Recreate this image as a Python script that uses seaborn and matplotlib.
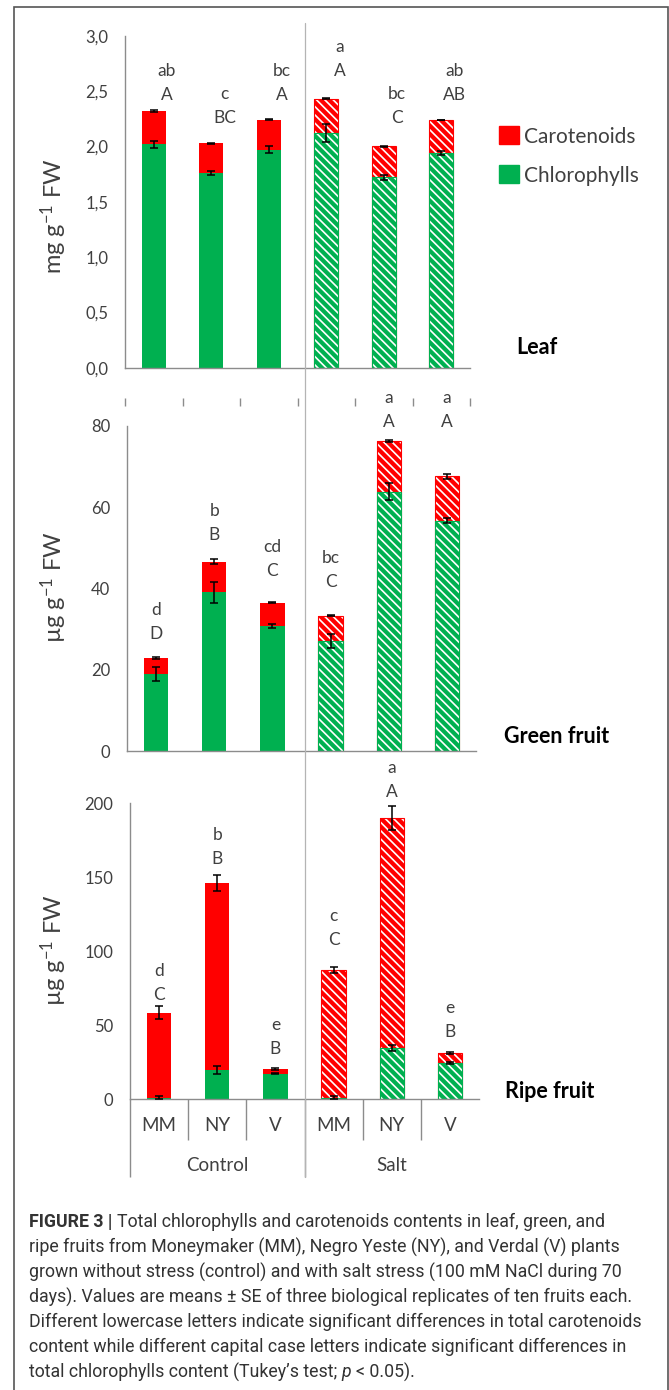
import numpy as np
import pandas as pd
import matplotlib
matplotlib.use('Agg')
import matplotlib.pyplot as plt
import seaborn as sns
from matplotlib.patches import Patch, Rectangle
from matplotlib.lines import Line2D
from matplotlib.ticker import FuncFormatter

# categories
groups = ['Control', 'Control', 'Control', 'Salt', 'Salt', 'Salt']
cultivars = ['MM', 'NY', 'V', 'MM', 'NY', 'V']

# Leaf (mg g-1 FW)
leaf_chl = [2.02, 1.76, 1.97, 2.12, 1.72, 1.94]
leaf_total = [2.32, 2.03, 2.24, 2.43, 2.00, 2.24]
leaf_chl_err = [0.03, 0.02, 0.03, 0.08, 0.02, 0.02]
leaf_total_err = [0.005, 0.005, 0.005, 0.005, 0.003, 0.003]
leaf_low = ['ab', 'c', 'bc', 'a', 'bc', 'ab']
leaf_up = ['A', 'BC', 'A', 'A', 'C', 'AB']
leaf_label_y = [2.465, 2.257, 2.465, 2.681, 2.257, 2.465]

# Green fruit (ug g-1 FW)
green_chl = [18.9, 39.0, 30.7, 27.0, 63.8, 56.6]
green_total = [22.9, 46.6, 36.5, 33.3, 76.2, 67.6]
green_chl_err = [1.7, 2.5, 0.5, 1.7, 2.0, 0.6]
green_total_err = [0.3, 0.6, 0.2, 0.2, 0.2, 0.6]
green_low = ['d', 'b', 'cd', 'bc', 'a', 'a']
green_up = ['D', 'B', 'C', 'C', 'A', 'A']
green_label_y = [28.7, 53.1, 44.3, 41.6, 80.9, 80.9]

# Ripe fruit (ug g-1 FW)
ripe_chl = [1.0, 19.8, 17.3, 1.0, 34.4, 24.5]
ripe_total = [58.5, 146.0, 20.5, 87.4, 190.0, 31.1]
ripe_chl_err = [1.0, 2.5, 0.5, 1.0, 2.0, 0.5]
ripe_total_err = [4.3, 5.3, 0.6, 2.0, 8.3, 0.8]
ripe_low = ['d', 'b', 'e', 'c', 'a', 'e']
ripe_up = ['C', 'B', 'B', 'C', 'A', 'B']
ripe_label_y = [70.5, 162.4, 34.0, 107.6, 207.6, 45.5]

caption_lines = [
    [('FIGURE 3 |', 'bold'), ('Total chlorophylls and carotenoids contents in leaf, green, and', 'normal')],
    [('ripe fruits from Moneymaker (MM), Negro Yeste (NY), and Verdal (V) plants', 'normal')],
    [('grown without stress (control) and with salt stress (100 mM NaCl during 70', 'normal')],
    [('days). Values are means \u00b1 SE of three biological replicates of ten fruits each.', 'normal')],
    [('Different lowercase letters indicate significant differences in total carotenoids', 'normal')],
    [('content while different capital case letters indicate significant differences in', 'normal')],
    [('total chlorophylls content (Tukey\u2019s test;', 'normal'), ('p', 'italic'), ('< 0.05).', 'normal')],
]

RED = '#FF0000'
GREEN = '#00B050'
GRAY = '#8C8C8C'
LIGHT = '#B4B4B4'
TXT = '#404040'

sns.set_theme(style='white')
plt.rcParams['font.family'] = ['Lato', 'DejaVu Sans']
plt.rcParams['mathtext.default'] = 'regular'
plt.rcParams['hatch.linewidth'] = 1.2

W, H = 669, 1390
fig = plt.figure(figsize=(W / 100, H / 100), dpi=100)


def axes_px(left, right, y_zero, y_top):
    return fig.add_axes([left / W, 1 - y_zero / H, (right - left) / W, (y_zero - y_top) / H])


def draw_panel(ax, chl, total, chl_err, total_err, low, up, label_y, ymax, step, shift, fmt):
    n = len(total)
    df = pd.DataFrame({'bar': [f'{g} {c}' for g, c in zip(groups, cultivars)],
                       'total': total, 'chl': chl})
    sns.barplot(data=df, x='bar', y='total', color=RED, saturation=1, width=0.42,
                errorbar=None, linewidth=0, ax=ax)
    sns.barplot(data=df, x='bar', y='chl', color=GREEN, saturation=1, width=0.42,
                errorbar=None, linewidth=0, ax=ax)
    for i, p in enumerate(list(ax.patches)):
        col = RED if i < n else GREEN
        z = 2 if i < n else 2.2
        p.set_zorder(z)
        if groups[i % n] == 'Salt':
            p.set_hatch('\\\\\\\\')
            p.set_edgecolor('white')
            ax.add_patch(Rectangle(p.get_xy(), p.get_width(), p.get_height(), fill=False,
                                   edgecolor=col, lw=0.8, zorder=z + 0.1))
    x = np.arange(n)
    for vals, errs in [(chl, chl_err), (total, total_err)]:
        ax.errorbar(x, vals, yerr=errs, fmt='none', ecolor='black', elinewidth=1.1,
                    capsize=3, capthick=1.1, zorder=4)
    for xi, lo, cap, yy in zip(x, low, up, label_y):
        ax.text(xi + shift, yy, cap, ha='center', va='center', fontsize=12.5, color=TXT)
        ax.annotate(lo, (xi + shift, yy), xytext=(0, 17.3), textcoords='offset points',
                    ha='center', va='center', fontsize=12.5, color=TXT, annotation_clip=False)
    ax.set_xlim(-0.5, n - 0.5)
    ax.set_ylim(0, ymax)
    ax.set_yticks(np.arange(0, ymax + step / 2, step))
    ax.yaxis.set_major_formatter(FuncFormatter(fmt))
    ax.set_xticks(np.arange(n + 1) - 0.5)
    ax.set_xticklabels([])
    ax.set_xlabel('')
    ax.set_ylabel('')
    sns.despine(ax=ax)
    for s in ['left', 'bottom']:
        ax.spines[s].set_color(GRAY)
        ax.spines[s].set_linewidth(1.0)
    ax.tick_params(axis='both', direction='out', length=5, width=1.0, color=GRAY,
                   labelsize=12, labelcolor=TXT, pad=7)
    ax.patch.set_alpha(0)


ax1 = axes_px(125, 470, 368, 35.7)
draw_panel(ax1, leaf_chl, leaf_total, leaf_chl_err, leaf_total_err, leaf_low, leaf_up,
           leaf_label_y, 3.0, 0.5, 0.23, lambda v, p: f'{v:.1f}'.replace('.', ','))
ax1.vlines(np.arange(7) - 0.5, -0.114, -0.090, transform=ax1.get_xaxis_transform(),
           color=GRAY, lw=1.0, clip_on=False)

ax2 = axes_px(127, 476, 751, 425.7)
draw_panel(ax2, green_chl, green_total, green_chl_err, green_total_err, green_low, green_up,
           green_label_y, 80, 20, 0, lambda v, p: f'{v:.0f}')

ax3 = axes_px(130, 479, 1099.3, 803.3)
draw_panel(ax3, ripe_chl, ripe_total, ripe_chl_err, ripe_total_err, ripe_low, ripe_up,
           ripe_label_y, 200, 50, 0, lambda v, p: f'{v:.0f}')
ax3.tick_params(axis='x', length=0)
tr3 = ax3.get_xaxis_transform()
ax3.vlines([0.5, 1.5, 3.5, 4.5], -0.139, 0, transform=tr3, color=GRAY, lw=1.0, clip_on=False)
ax3.vlines([-0.5, 2.5], -0.263, 0, transform=tr3, color=GRAY, lw=1.0, clip_on=False)
for xi, c in enumerate(cultivars):
    ax3.text(xi, -0.09, c, transform=tr3, ha='center', va='center', fontsize=13.5, color=TXT)
for g in ['Control', 'Salt']:
    xs = [i for i, gg in enumerate(groups) if gg == g]
    ax3.text(np.mean(xs), -0.225, g, transform=tr3, ha='center', va='center', fontsize=13.5, color=TXT)

# divider between Control and Salt
fig.add_artist(Line2D([305 / W, 305 / W], [1 - 23 / H, 1 - 1177 / H], color=LIGHT, lw=0.9))

# y labels and panel names
for ypx, lab in [(216, 'mg g$^{-1}$ FW'), (587, '\u00b5g g$^{-1}$ FW'), (950, '\u00b5g g$^{-1}$ FW')]:
    fig.text(54 / W, 1 - ypx / H, lab, rotation=90, ha='center', va='center', fontsize=17, color=TXT)
for xpx, ypx, name in [(516, 347, 'Leaf'), (504, 737, 'Green fruit'), (505, 1092, 'Ripe fruit')]:
    fig.text(xpx / W, 1 - ypx / H, name, ha='left', va='center', fontsize=15.5,
             fontweight='bold', color='black')

handles = [Patch(facecolor=RED, edgecolor=RED, label='Carotenoids'),
           Patch(facecolor=GREEN, edgecolor=GREEN, label='Chlorophylls')]
leg = fig.legend(handles=handles, loc='center left', bbox_to_anchor=(499 / W, 1 - 156 / H),
                 frameon=False, fontsize=15, handlelength=0.95, handleheight=0.95,
                 handletextpad=0.25, labelspacing=0.9, borderpad=0, borderaxespad=0)
for t in leg.get_texts():
    t.set_color(TXT)

# frame around figure
fig.add_artist(Rectangle((14 / W, -0.01), (668 - 14) / W, 1 - 7 / H + 0.01,
                         transform=fig.transFigure, fill=False, edgecolor='#555555', lw=1.2))

# caption
CAP_FAM = ['Roboto', 'DejaVu Sans']
CAP_FS = 12.8
renderer = fig.canvas.get_renderer()
probe = fig.text(0, 0, 'x x', fontsize=CAP_FS, family=CAP_FAM)
w2 = probe.get_window_extent(renderer).width
probe.set_text('xx')
space_w = w2 - probe.get_window_extent(renderer).width
probe.remove()

line_y = [1222, 1247, 1272, 1297, 1322, 1347, 1372]
for ypx, segs in zip(line_y, caption_lines):
    xpx = 29
    for text, style in segs:
        kw = {'fontweight': 'bold'} if style == 'bold' else ({'fontstyle': 'italic'} if style == 'italic' else {})
        t = fig.text(xpx / W, 1 - ypx / H, text, fontsize=CAP_FS, family=CAP_FAM,
                     ha='left', va='center', color='#333333', **kw)
        xpx = t.get_window_extent(renderer).x1 + space_w

fig.savefig('out.png', dpi=100)
